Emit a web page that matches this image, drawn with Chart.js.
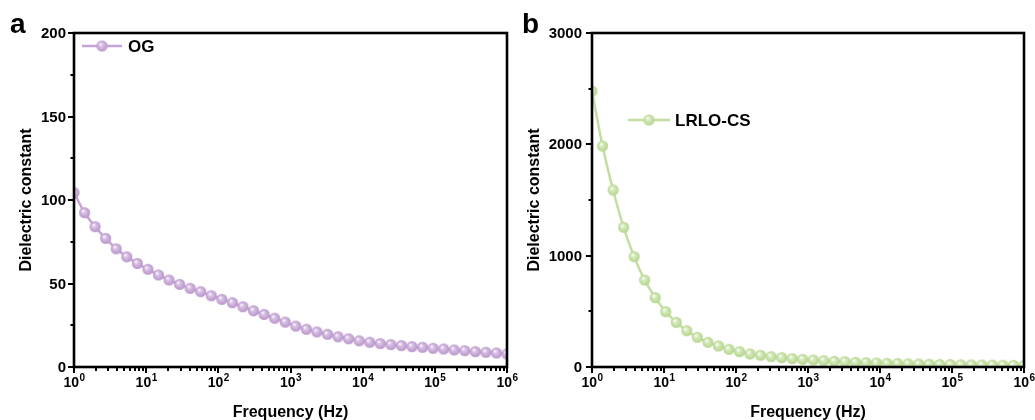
<!DOCTYPE html>
<html>
<head>
<meta charset="utf-8">
<script src="https://cdn.jsdelivr.net/npm/chart.js@4/dist/chart.umd.min.js"></script>
<style>
  html, body { margin: 0; padding: 0; background: #fff; }
  #wrap { position: relative; width: 1035px; height: 420px; }
  canvas { position: absolute; top: 0; }
  #cA { left: 0; }
  #cB { left: 515px; }
</style>
</head>
<body>
<div id="wrap">
  <canvas id="cA" width="530" height="420"></canvas>
  <canvas id="cB" width="520" height="420"></canvas>
</div>
<script>
// ---------------- DATA ----------------
const freqHz = [1, 1.401, 1.962, 2.748, 3.849, 5.392, 7.553, 10.58, 14.82, 20.76,
  29.07, 40.72, 57.04, 79.90, 111.9, 156.7, 219.5, 307.5, 430.7, 603.3,
  845.1, 1184, 1658, 2323, 3253, 4557, 6383, 8940, 12523, 17541,
  24570, 34416, 48206, 67523, 94580, 132480, 185570, 259920, 364070, 509970,
  714330, 1000000];

const ogValues = [104.4, 92.4, 84.0, 77.0, 70.8, 66.0, 62.0, 58.5, 55.1, 52.1,
  49.5, 47.1, 45.1, 42.7, 40.5, 38.5, 36.1, 33.7, 31.5, 29.2,
  26.9, 24.5, 22.6, 21.0, 19.6, 18.1, 16.9, 15.7, 14.8, 14.0,
  13.4, 12.8, 12.2, 11.8, 11.2, 10.8, 10.2, 9.8, 9.2, 8.8,
  8.4, 7.8];

const lrloValues = [2479, 1985, 1590, 1255, 991, 781, 623, 497, 401, 326,
  267, 222, 189, 159, 138, 117, 105, 93, 84, 75,
  69, 63, 57, 51, 48, 42, 39, 36, 33, 31,
  29, 27, 25, 23, 22, 20, 19, 18, 17, 16,
  15, 14];

const xTickExponents = [0, 1, 2, 3, 4, 5, 6];
const yTicksOG = [0, 50, 100, 150, 200];
const yTicksLRLO = [0, 1000, 2000, 3000];

const seriesNameA = 'OG';
const seriesNameB = 'LRLO-CS';
const xTitle = 'Frequency (Hz)';
const yTitle = 'Dielectric constant';

// ---------------- STYLE ----------------
const FONT = '"Liberation Sans", Arial, sans-serif';

function sphere(base, light, r) {
  const c = document.createElement('canvas');
  const s = 2 * r + 2;
  c.width = s; c.height = s;
  const ctx = c.getContext('2d');
  const cx = r + 1, cy = r + 1;
  const g = ctx.createRadialGradient(cx - r * 0.3, cy - r * 0.35, r * 0.05, cx, cy, r);
  g.addColorStop(0, '#ffffff');
  g.addColorStop(0.3, light);
  g.addColorStop(1, base);
  ctx.fillStyle = g;
  ctx.beginPath();
  ctx.arc(cx, cy, r, 0, Math.PI * 2);
  ctx.fill();
  return c;
}

const purpleLine = '#c5a4d5';
const greenLine = '#c3dea0';
const purpleBall = sphere('#b893ca', '#dac3e5', 5.5);
const greenBall = sphere('#b3d38b', '#d9ecc1', 5.5);

const axisPlugin = {
  id: 'axisDecor',
  afterDraw(chart, args, o) {
    const ctx = chart.ctx;
    const { left, right, top, bottom } = chart.chartArea;
    const xs = chart.scales.x, ys = chart.scales.y;
    ctx.save();
    ctx.strokeStyle = '#000';
    ctx.fillStyle = '#000';
    // x ticks (decades + minors)
    ctx.lineWidth = 2;
    for (const e of xTickExponents) {
      for (let m = 1; m <= 9; m++) {
        const v = m * Math.pow(10, e);
        if (v > xs.max * 1.0000001) break;
        const px = Math.round(xs.getPixelForValue(v));
        const len = m === 1 ? 6 : 4;
        ctx.beginPath();
        ctx.moveTo(px, bottom);
        ctx.lineTo(px, bottom + len);
        ctx.stroke();
      }
    }
    // y ticks
    const yt = o.yTicks;
    for (let i = 0; i < yt.length; i++) {
      const py = Math.round(ys.getPixelForValue(yt[i]));
      ctx.beginPath(); ctx.moveTo(left, py); ctx.lineTo(left - 6, py); ctx.stroke();
      if (i < yt.length - 1) {
        const pm = Math.round(ys.getPixelForValue((yt[i] + yt[i + 1]) / 2));
        ctx.beginPath(); ctx.moveTo(left, pm); ctx.lineTo(left - 3.5, pm); ctx.stroke();
      }
    }
    // frame
    ctx.lineWidth = 2.6;
    ctx.strokeRect(left, top, right - left, bottom - top);

    // y tick labels
    ctx.font = 'bold 15px ' + FONT;
    ctx.textAlign = 'right';
    ctx.textBaseline = 'middle';
    for (const v of yt) {
      ctx.fillText(String(v), left - o.yLabelGap, ys.getPixelForValue(v) + 1);
    }
    // x tick labels 10^n
    ctx.textBaseline = 'alphabetic';
    ctx.textAlign = 'left';
    for (const e of xTickExponents) {
      const px = xs.getPixelForValue(Math.pow(10, e));
      ctx.font = 'bold 14px ' + FONT;
      const w1 = ctx.measureText('10').width;
      ctx.font = 'bold 10px ' + FONT;
      const w2 = ctx.measureText(String(e)).width;
      const x0 = px - (w1 + w2) / 2;
      ctx.font = 'bold 14px ' + FONT;
      ctx.fillText('10', x0, bottom + 20);
      ctx.font = 'bold 10px ' + FONT;
      ctx.fillText(String(e), x0 + w1 + 0.5, bottom + 14);
    }
    // axis titles
    ctx.font = 'bold 16px ' + FONT;
    ctx.textAlign = 'center';
    ctx.textBaseline = 'alphabetic';
    ctx.fillText(xTitle, (left + right) / 2, bottom + 50);
    ctx.save();
    ctx.translate(o.yTitleX, (top + bottom) / 2);
    ctx.rotate(-Math.PI / 2);
    ctx.textBaseline = 'middle';
    ctx.fillText(yTitle, 0, 0);
    ctx.restore();

    // panel letter
    ctx.font = 'bold 28px ' + FONT;
    ctx.textAlign = 'left';
    ctx.textBaseline = 'alphabetic';
    ctx.fillText(o.letter, o.letterX, 33);

    // legend
    const lg = o.legend;
    ctx.strokeStyle = lg.color;
    ctx.lineWidth = 2.5;
    ctx.beginPath(); ctx.moveTo(lg.x0, lg.y); ctx.lineTo(lg.x1, lg.y); ctx.stroke();
    ctx.drawImage(lg.ball, (lg.x0 + lg.x1) / 2 - lg.ball.width / 2, lg.y - lg.ball.height / 2);
    ctx.fillStyle = '#000';
    ctx.font = 'bold 17px ' + FONT;
    ctx.textBaseline = 'middle';
    ctx.fillText(lg.text, lg.tx, lg.y + 1);
    ctx.restore();
  }
};

function makeChart(id, values, name, lineColor, ball, yMax, yTicks, pad, decor) {
  return new Chart(document.getElementById(id), {
    type: 'line',
    data: {
      datasets: [{
        label: name,
        data: freqHz.map((f, i) => ({ x: f, y: values[i] })),
        borderColor: lineColor,
        borderWidth: 2.5,
        pointStyle: ball,
        pointRadius: 5,
        pointHoverRadius: 5,
        cubicInterpolationMode: 'monotone',
        fill: false,
        clip: 0
      }]
    },
    options: {
      responsive: false,
      animation: false,
      devicePixelRatio: 1,
      layout: { padding: pad },
      plugins: {
        legend: { display: false },
        tooltip: { enabled: false },
        axisDecor: Object.assign({ yTicks: yTicks }, decor)
      },
      scales: {
        x: { type: 'logarithmic', min: 1, max: 1e6, display: false },
        y: { type: 'linear', min: 0, max: yMax, display: false }
      }
    },
    plugins: [axisPlugin]
  });
}

makeChart('cA', ogValues, seriesNameA, purpleLine, purpleBall, 200, yTicksOG,
  { left: 74, right: 23, top: 33, bottom: 53 },
  { yLabelGap: 8, yTitleX: 27, letter: 'a', letterX: 10,
    legend: { x0: 82, x1: 122, y: 46, tx: 128, text: seriesNameA, color: purpleLine, ball: purpleBall } });

makeChart('cB', lrloValues, seriesNameB, greenLine, greenBall, 3000, yTicksLRLO,
  { left: 77, right: 11, top: 33, bottom: 53 },
  { yLabelGap: 10, yTitleX: 20, letter: 'b', letterX: 7,
    legend: { x0: 113, x1: 155, y: 120, tx: 160, text: seriesNameB, color: greenLine, ball: greenBall } });
</script>
</body>
</html>
